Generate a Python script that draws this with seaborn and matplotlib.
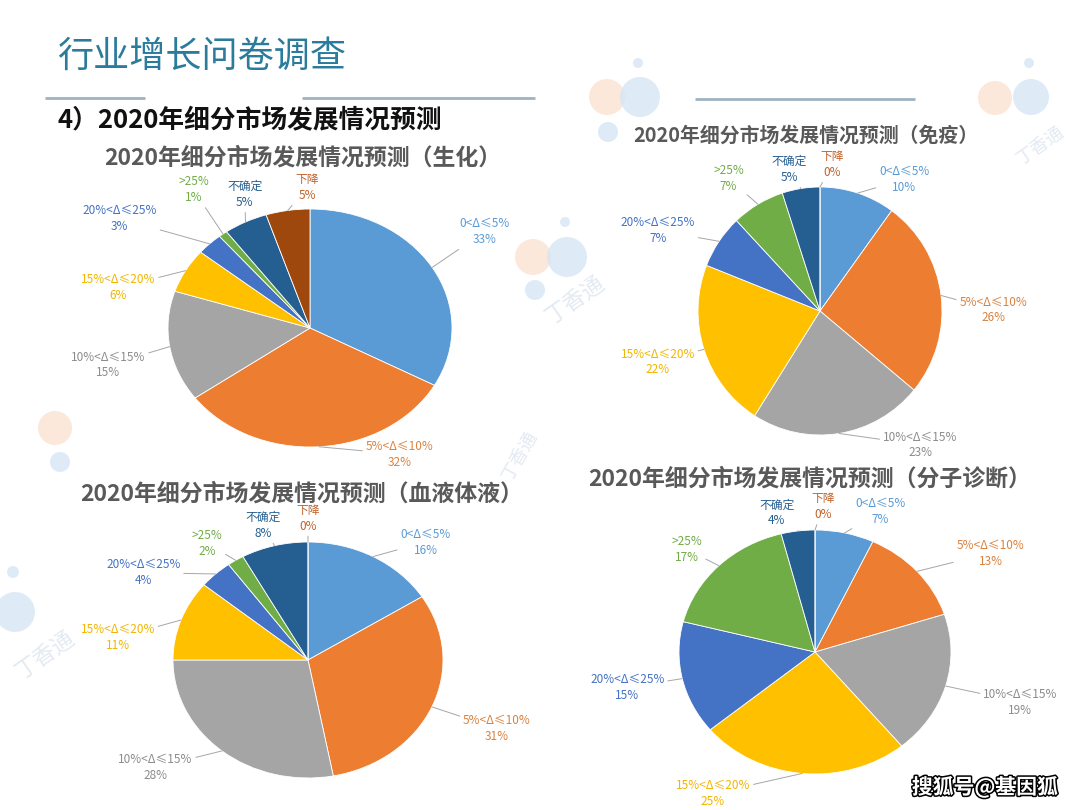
import matplotlib
matplotlib.use('Agg')
import matplotlib.pyplot as plt
import seaborn as sns
import numpy as np
import matplotlib.patheffects as pe
from matplotlib.patches import Circle

# ---------------- data ----------------
categories = ['0<Δ≤5%', '5%<Δ≤10%', '10%<Δ≤15%', '15%<Δ≤20%',
              '20%<Δ≤25%', '>25%', '不确定', '下降']
shenghua = [33, 32, 15, 6, 3, 1, 5, 5]      # 生化
mianyi = [10, 26, 23, 22, 7, 7, 5, 0]        # 免疫
xueye = [16, 31, 28, 11, 4, 2, 8, 0]         # 血液体液
fenzi = [7, 13, 19, 25, 15, 17, 4, 0]        # 分子诊断
chart_titles = ['2020年细分市场发展情况预测（生化）',
                '2020年细分市场发展情况预测（免疫）',
                '2020年细分市场发展情况预测（血液体液）',
                '2020年细分市场发展情况预测（分子诊断）']
page_title = '行业增长问卷调查'
section_title = '4）2020年细分市场发展情况预测'
watermark = '搜狐号@基因狐'

# ---------------- style ----------------
sns.set_theme(style='white')
FONTS = ['Noto Sans CJK SC', 'DejaVu Sans']
plt.rcParams['font.family'] = FONTS
plt.rcParams['axes.unicode_minus'] = False

slice_colors = sns.color_palette(['#5B9BD5', '#ED7D31', '#A5A5A5', '#FFC000',
                                  '#4472C4', '#70AD47', '#255E91', '#9E480E'])
label_colors = ['#5B9BD5', '#D9823F', '#8C8C8C', '#F2B500',
                '#4472C4', '#70AD47', '#255E91', '#C0622A']

W, H = 1080, 810
fig = plt.figure(figsize=(W / 100, H / 100), dpi=100)
fig.patch.set_facecolor('white')

# background axes in pixel units
bg = fig.add_axes([0, 0, 1, 1])
bg.set_xlim(0, W)
bg.set_ylim(H, 0)
bg.axis('off')

# faint decorative logo circles
deco = [((607, 97), 18, '#FBE0CF'), ((640, 97), 20, '#D3E5F5'), ((608, 132), 10, '#D3E5F5'),
        ((638, 63), 5, '#D3E5F5'),
        ((533, 257), 18, '#FBE0CF'), ((567, 257), 20, '#D3E5F5'), ((535, 290), 10, '#D3E5F5'),
        ((565, 222), 5, '#D3E5F5'),
        ((995, 98), 17, '#FBE0CF'), ((1031, 97), 18, '#D3E5F5'), ((1029, 63), 5, '#D3E5F5'),
        ((55, 428), 17, '#FBE0CF'), ((60, 462), 10, '#D3E5F5'),
        ((15, 612), 20, '#D3E5F5'), ((13, 572), 6, '#D3E5F5')]
for (x, y), r, c in deco:
    bg.add_patch(Circle((x, y), r, facecolor=c, edgecolor='none', alpha=0.75, zorder=0))
for (x, y, rot, fs) in [(575, 300, 35, 16), (1040, 145, 35, 13), (45, 655, 35, 16),
                         (520, 455, 60, 13)]:
    bg.text(x, y, '丁香通', fontsize=fs, color='#E3EAF2', rotation=rot,
            ha='center', va='center', zorder=0)

# header lines
for x0, x1, y in [(45, 145, 98), (302, 535, 98), (695, 915, 99)]:
    bg.plot([x0, x1], [y, y], color='#9FB2C2', lw=2, solid_capstyle='butt', zorder=1)

bg.text(57, 57, page_title, fontsize=26, color='#2B7C9C', ha='left', va='center')
bg.text(57, 121, section_title, fontsize=18.5, fontweight='bold', color='#111111',
        ha='left', va='center')

# ---------------- pies ----------------
layouts = [
    dict(cx=310, cy=328, rx=142, ry=119, title=(303, 158), tsize=16.5,
         labels=[(1.23, 0.81), (0.63, -1.06), (-1.42, -0.31), (-1.35, 0.34),
                 (-1.34, 0.92), (-0.82, 1.16), (-0.46, 1.12), (-0.02, 1.18)]),
    dict(cx=820, cy=311, rx=122, ry=124, title=(806, 135), tsize=14.3,
         labels=[(0.69, 1.06), (1.42, 0.01), (0.82, -1.08), (-1.33, -0.41),
                 (-1.33, 0.65), (-0.75, 1.07), (-0.25, 1.14), (0.10, 1.18)]),
    dict(cx=308, cy=660, rx=135, ry=118, title=(302, 494), tsize=16.5,
         labels=[(0.87, 1.00), (1.40, -0.58), (-1.13, -0.91), (-1.41, 0.19),
                 (-1.22, 0.74), (-0.75, 0.99), (-0.33, 1.14), (0.00, 1.20)]),
    dict(cx=815, cy=652, rx=136, ry=122, title=(810, 479), tsize=16.5,
         labels=[(0.48, 1.15), (1.29, 0.81), (1.51, -0.41), (-0.75, -1.16),
                 (-1.38, -0.29), (-0.94, 0.84), (-0.28, 1.14), (0.06, 1.19)]),
]
series = [shenghua, mianyi, xueye, fenzi]

for vals, title, lay in zip(series, chart_titles, layouts):
    cx, cy, rx, ry = lay['cx'], lay['cy'], lay['rx'], lay['ry']
    ax = fig.add_axes([(cx - rx) / W, 1 - (cy + ry) / H, 2 * rx / W, 2 * ry / H])
    wedges, _ = ax.pie(vals, colors=slice_colors, startangle=90, counterclock=False,
                       radius=1.0, wedgeprops=dict(edgecolor='white', linewidth=0.6))
    ax.set_aspect('auto')
    ax.set_xlim(-1, 1)
    ax.set_ylim(-1, 1)
    ax.axis('off')
    for i, (w, v) in enumerate(zip(wedges, vals)):
        mid = np.deg2rad((w.theta1 + w.theta2) / 2)
        ex, ey = np.cos(mid), np.sin(mid)
        lx, ly = lay['labels'][i]
        ax.annotate(f'{categories[i]}\n{v}%', xy=(ex, ey), xytext=(lx, ly),
                    textcoords='data', ha='center', va='center', fontsize=8.5,
                    color=label_colors[i], linespacing=1.3,
                    annotation_clip=False,
                    arrowprops=dict(arrowstyle='-', color='#A6A6A6', lw=0.7,
                                    shrinkA=0, shrinkB=0))
    bg.text(lay['title'][0], lay['title'][1], title, fontsize=lay['tsize'],
            fontweight='bold', color='#595959', ha='center', va='center')

bg.text(985, 787, watermark, fontsize=15, fontweight='bold', color='white',
        ha='center', va='center', zorder=10,
        path_effects=[pe.withStroke(linewidth=2.2, foreground='black')])

fig.savefig('out.png', dpi=100)
